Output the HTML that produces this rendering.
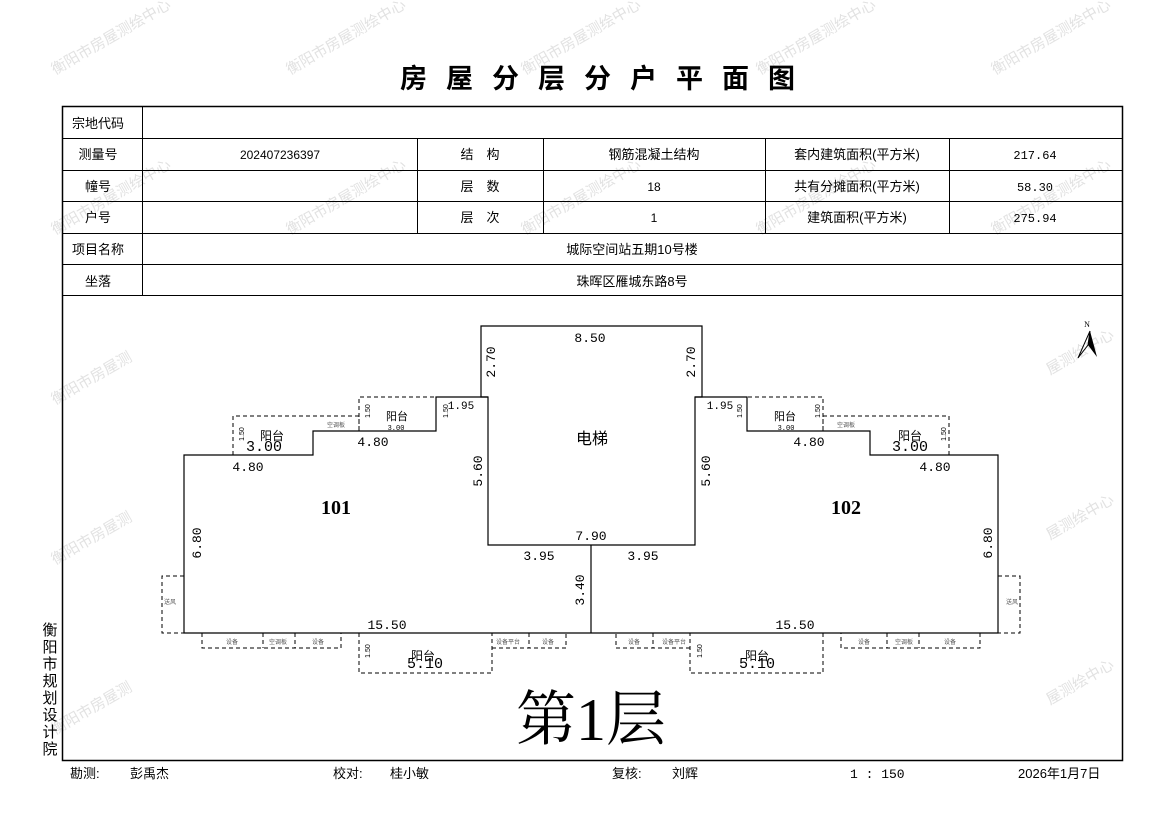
<!DOCTYPE html>
<html><head><meta charset="utf-8"><style>
html,body{margin:0;padding:0;background:#fff;}
svg{display:block;font-family:"Liberation Sans","Noto Sans CJK SC",sans-serif;}
.m{font-family:"Liberation Mono","Noto Sans CJK SC",monospace;}
.s{font-family:"Liberation Serif","Noto Serif CJK SC",serif;}
</style></head><body>
<svg width="1169" height="827" viewBox="0 0 1169 827" xmlns="http://www.w3.org/2000/svg">
<g fill="#e2e2e2" font-size="15">
<text transform="translate(55,75) rotate(-30)">衡阳市房屋测绘中心</text>
<text transform="translate(290,75) rotate(-30)">衡阳市房屋测绘中心</text>
<text transform="translate(525,75) rotate(-30)">衡阳市房屋测绘中心</text>
<text transform="translate(760,75) rotate(-30)">衡阳市房屋测绘中心</text>
<text transform="translate(995,75) rotate(-30)">衡阳市房屋测绘中心</text>
<text transform="translate(55,235) rotate(-30)">衡阳市房屋测绘中心</text>
<text transform="translate(290,235) rotate(-30)">衡阳市房屋测绘中心</text>
<text transform="translate(525,235) rotate(-30)">衡阳市房屋测绘中心</text>
<text transform="translate(760,235) rotate(-30)">衡阳市房屋测绘中心</text>
<text transform="translate(995,235) rotate(-30)">衡阳市房屋测绘中心</text>
<text transform="translate(55,405) rotate(-30)">衡阳市房屋测</text>
<text transform="translate(1050,375) rotate(-30)">屋测绘中心</text>
<text transform="translate(55,565) rotate(-30)">衡阳市房屋测</text>
<text transform="translate(1050,540) rotate(-30)">屋测绘中心</text>
<text transform="translate(55,735) rotate(-30)">衡阳市房屋测</text>
<text transform="translate(1050,705) rotate(-30)">屋测绘中心</text>
</g>
<text x="607" y="88" text-anchor="middle" font-size="27" font-weight="bold" letter-spacing="19">房屋分层分户平面图</text>
<g stroke="#000" stroke-width="1" fill="none">
<rect x="62.5" y="106.5" width="1060" height="654" stroke-width="1.5"/>
<line x1="62" y1="138.5" x2="1122" y2="138.5"/>
<line x1="62" y1="170.5" x2="1122" y2="170.5"/>
<line x1="62" y1="201.5" x2="1122" y2="201.5"/>
<line x1="62" y1="233.5" x2="1122" y2="233.5"/>
<line x1="62" y1="264.5" x2="1122" y2="264.5"/>
<line x1="62" y1="295.5" x2="1122" y2="295.5"/>
<line x1="142.5" y1="106" x2="142.5" y2="295"/>
<line x1="417.5" y1="138" x2="417.5" y2="233"/>
<line x1="543.5" y1="138" x2="543.5" y2="233"/>
<line x1="765.5" y1="138" x2="765.5" y2="233"/>
<line x1="949.5" y1="138" x2="949.5" y2="233"/>
</g>
<g font-size="13" text-anchor="middle" fill="#000">
<text x="98" y="128">宗地代码</text>
<text x="98" y="159">测量号</text>
<text x="98" y="191">幢号</text>
<text x="98" y="222">户号</text>
<text x="98" y="254">项目名称</text>
<text x="98" y="286">坐落</text>
<text x="280" y="159" font-size="12">202407236397</text>
<text x="480" y="159">结　构</text>
<text x="480" y="191">层　数</text>
<text x="480" y="222">层　次</text>
<text x="654" y="159">钢筋混凝土结构</text>
<text x="654" y="191" font-size="12">18</text>
<text x="654" y="222" font-size="12">1</text>
<text x="857" y="159">套内建筑面积(平方米)</text>
<text x="857" y="191">共有分摊面积(平方米)</text>
<text x="857" y="222">建筑面积(平方米)</text>
<text x="1035" y="159" font-size="12" class="m">217.64</text>
<text x="1035" y="191" font-size="12" class="m">58.30</text>
<text x="1035" y="222" font-size="12" class="m">275.94</text>
<text x="632" y="254">城际空间站五期10号楼</text>
<text x="632" y="286">珠晖区雁城东路8号</text>
</g>
<g stroke="#000" stroke-width="1.2" fill="none">
<path d="M591,633 L184,633 L184,455 L313,455 L313,431 L436,431 L436,397 L488,397 L488,545 L695,545 L695,397 L747,397 L747,431 L870,431 L870,455 L998,455 L998,633 L591,633 L591,545"/>
<path d="M488,397 L481,397 L481,326 L702,326 L702,397 L695,397"/>
</g>
<g stroke="#000" stroke-width="1" fill="none" stroke-dasharray="4,3">
<path d="M233,455 L233,416 L313,416 L359,416 L359,431"/>
<path d="M359,431 L359,397 L436,397"/>
<path d="M949,455 L949,416 L869,416 L823,416 L823,431"/>
<path d="M823,431 L823,397 L747,397"/>
<path d="M184,576 L162,576 L162,633 L184,633"/>
<path d="M998,576 L1020,576 L1020,633 L998,633"/>
<path d="M202,633 L202,648 L341,648 L341,633 M263,633 L263,648 M295,633 L295,648"/>
<path d="M359,633 L359,673 L492,673 L492,633 M492,648 L566,648 L566,633 M529,633 L529,648"/>
<path d="M980,633 L980,648 L841,648 L841,633 M919,633 L919,648 M887,633 L887,648"/>
<path d="M823,633 L823,673 L690,673 L690,633 M690,648 L616,648 L616,633 M653,633 L653,648"/>
</g>
<g class="m" font-size="13" fill="#000" text-anchor="middle">
<text x="590" y="342">8.50</text>
<text x="591" y="540">7.90</text>
<text x="539" y="560">3.95</text>
<text x="643" y="560">3.95</text>
<text x="248" y="471">4.80</text>
<text x="373" y="446">4.80</text>
<text x="809" y="446">4.80</text>
<text x="935" y="471">4.80</text>
<text x="387" y="629">15.50</text>
<text x="795" y="629">15.50</text>
<text x="461" y="409" font-size="11">1.95</text>
<text x="720" y="409" font-size="11">1.95</text>
<text x="264" y="451" font-size="15">3.00</text>
<text x="910" y="451" font-size="15">3.00</text>
<text x="425" y="668" font-size="15">5.10</text>
<text x="757" y="668" font-size="15">5.10</text>
<text x="396" y="430" font-size="7">3.00</text>
<text x="786" y="430" font-size="7">3.00</text>
<text transform="translate(495,362) rotate(-90)">2.70</text>
<text transform="translate(695,362) rotate(-90)">2.70</text>
<text transform="translate(482,471) rotate(-90)">5.60</text>
<text transform="translate(710,471) rotate(-90)">5.60</text>
<text transform="translate(584,590) rotate(-90)">3.40</text>
<text transform="translate(201,543) rotate(-90)">6.80</text>
<text transform="translate(992,543) rotate(-90)">6.80</text>
</g>
<g font-size="11" fill="#000" text-anchor="middle">
<text x="397" y="420">阳台</text><text x="785" y="420">阳台</text>
<text x="272" y="440" font-size="12">阳台</text><text x="910" y="440" font-size="12">阳台</text>
<text x="423" y="660" font-size="12">阳台</text><text x="757" y="660" font-size="12">阳台</text>
<text x="336" y="427" font-size="6" fill="#555">空调板</text><text x="846" y="427" font-size="6" fill="#555">空调板</text>
<text x="232" y="644" font-size="6" fill="#555">设备</text><text x="278" y="644" font-size="6" fill="#555">空调板</text><text x="318" y="644" font-size="6" fill="#555">设备</text>
<text x="508" y="644" font-size="6" fill="#555">设备平台</text><text x="548" y="644" font-size="6" fill="#555">设备</text>
<text x="950" y="644" font-size="6" fill="#555">设备</text><text x="904" y="644" font-size="6" fill="#555">空调板</text><text x="864" y="644" font-size="6" fill="#555">设备</text>
<text x="674" y="644" font-size="6" fill="#555">设备平台</text><text x="634" y="644" font-size="6" fill="#555">设备</text>
<text x="170" y="604" font-size="6" fill="#555">送风</text><text x="1012" y="604" font-size="6" fill="#555">送风</text>
<text x="592" y="444" font-size="16">电梯</text>
<text x="240" y="438" font-size="7" transform="rotate(-90 240 434)">1.50</text>
<text x="942" y="438" font-size="7" transform="rotate(-90 942 434)">1.50</text>
<text x="366" y="415" font-size="7" transform="rotate(-90 366 411)">1.50</text>
<text x="816" y="415" font-size="7" transform="rotate(-90 816 411)">1.50</text>
<text x="444" y="415" font-size="7" transform="rotate(-90 444 411)">1.50</text>
<text x="738" y="415" font-size="7" transform="rotate(-90 738 411)">1.50</text>
<text x="366" y="655" font-size="7" transform="rotate(-90 366 651)">1.50</text>
<text x="698" y="655" font-size="7" transform="rotate(-90 698 651)">1.50</text>
</g>
<g class="s" font-size="20" font-weight="bold" text-anchor="middle">
<text x="336" y="514">101</text><text x="846" y="514">102</text>
</g>
<text x="591" y="740" text-anchor="middle" font-size="60" class="s">第1层</text>
<text x="1087" y="327" font-size="8" class="s" text-anchor="middle">N</text>
<path d="M1090,331 L1078,358 L1088,345 Z" fill="none" stroke="#000" stroke-width="1"/>
<path d="M1090,331 L1097,357 L1088,345 Z" fill="#000"/>
<g font-size="15" text-anchor="middle" fill="#000">
<text x="50" y="635">衡</text><text x="50" y="652">阳</text><text x="50" y="669">市</text><text x="50" y="686">规</text><text x="50" y="703">划</text><text x="50" y="720">设</text><text x="50" y="737">计</text><text x="50" y="754">院</text>
</g>
<g font-size="13" fill="#000">
<text x="70" y="778">勘测:</text><text x="130" y="778">彭禹杰</text>
<text x="333" y="778">校对:</text><text x="390" y="778">桂小敏</text>
<text x="612" y="778">复核:</text><text x="672" y="778">刘辉</text>
<text x="850" y="778" class="m">1 : 150</text>
<text x="1018" y="778">2026年1月7日</text>
</g>
</svg>
</body></html>
